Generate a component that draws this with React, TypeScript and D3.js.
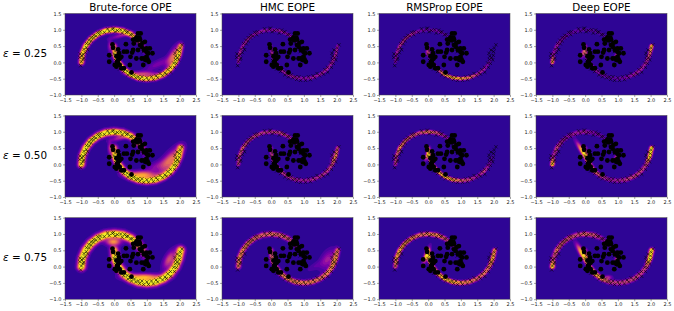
import { useEffect, useMemo, useRef } from "react";
import * as d3 from "d3";

const FONT = "'DejaVu Sans', sans-serif";
const PANEL_W = 131;
const PANEL_H = 81.5;
const COL_X = [65, 222, 379, 536];
const ROW_Y = [13.5, 115.5, 217.7];
const xTicks = [-1.5, -1, -0.5, 0, 0.5, 1, 1.5, 2, 2.5];
const yTicks = [-1, -0.5, 0, 0.5, 1, 1.5];

const methods = ["Brute-force OPE", "HMC EOPE", "RMSProp EOPE", "Deep EOPE"];
const epsilons = ["0.25", "0.50", "0.75"];

// labelled points, same in every panel
const dotPoints = [
  [-0.05, 0.55], [-0.03, 0.45], [-0.15, 0.22], [-0.15, 0.02], [0.12, 0.4], [0.15, 0.28], [0.07, 0.19],
  [0.22, 0.17], [0.3, 0.33], [0.36, 0.56], [0.39, 0.33], [0.5, 0.17], [0.55, 0.3], [0.6, 0.58],
  [0.68, 0.77], [0.73, 0.89], [0.81, 0.89], [0.7, 0.68], [0.77, 0.76], [0.58, 0.38], [0.73, 0.38],
  [0.68, 0.12], [0.48, -0.08], [0.84, 0.12], [0.99, 0.17], [1.04, 0.28], [1.17, 0.28], [1.09, 0.43],
  [0.94, 0.63], [0.84, 0.48], [0.91, 0.38], [0.97, 0.07], [0.89, -0.08], [1.06, 0.02], [0.12, -0.03],
  [0.07, -0.13], [0.17, -0.08], [0.09, 0.02], [0.22, -0.18], [0.3, -0.18], [0.17, 0.12], [0.53, -0.31],
  [0.79, 0.53], [0.87, 0.6], [0.94, 0.4], [0.99, 0.33], [0.91, 0.12], [0.99, 0.43], [1.02, 0.09],
  [0.58, 0.7], [0.79, 0.7], [0.15, 0.17], [0.02, -0.08], [0.12, 0.07],
];

const crossPoints = [
  [-1.02, -0.1], [-1.0, 0.02], [-0.95, 0.09], [-1.05, 0.15], [-0.93, 0.13], [-1.04, 0.26], [-0.95, 0.25],
  [-0.88, 0.3], [-0.98, 0.2], [-0.92, 0.4], [-0.85, 0.46], [-0.81, 0.39], [-0.84, 0.58], [-0.76, 0.57],
  [-0.77, 0.68], [-0.7, 0.66], [-0.7, 0.76], [-0.63, 0.75], [-0.62, 0.83], [-0.55, 0.81], [-0.5, 0.92],
  [-0.44, 0.85], [-0.42, 0.94], [-0.3, 0.92], [-0.2, 1.03], [-0.15, 0.95], [-0.05, 1.02], [-0.02, 1.05],
  [0.03, 0.94], [0.1, 0.98], [0.2, 1.0], [0.25, 0.9], [0.32, 0.99], [0.38, 0.92], [0.42, 0.94],
  [0.5, 0.85], [0.55, 0.86], [0.6, 0.75], [0.65, 0.7], [0.7, 0.78], [0.75, 0.6], [0.82, 0.6],
  [0.85, 0.47], [0.9, 0.45], [0.89, 0.33], [0.98, 0.25], [1.0, 0.16], [0.93, 0.07], [1.04, 0.06],
  [-0.04, 0.42], [0.04, 0.35], [0.0, 0.25], [0.06, 0.13], [0.05, 0.05], [0.15, 0.02], [0.08, -0.08],
  [0.2, -0.1], [0.17, -0.2], [0.3, -0.19], [0.29, -0.28], [0.4, -0.27], [0.42, -0.38], [0.5, -0.33],
  [0.53, -0.44], [0.62, -0.38], [0.66, -0.47], [0.74, -0.44], [0.78, -0.52], [0.85, -0.44], [0.9, -0.55],
  [1.0, -0.47], [1.05, -0.55], [1.14, -0.44], [1.2, -0.53], [1.28, -0.41], [1.33, -0.47], [1.4, -0.34],
  [1.48, -0.41], [1.55, -0.32], [1.6, -0.36], [1.64, -0.22], [1.73, -0.3], [1.72, -0.15], [1.84, -0.15],
  [1.82, -0.02], [1.9, -0.03], [1.87, 0.09], [1.97, 0.08], [1.88, 0.19], [1.99, 0.22], [1.86, 0.28],
  [2.0, 0.33], [1.92, 0.38], [2.02, 0.44], [2.07, 0.54], [1.94, 0.14],
];

// centre lines of the two moons
const upperMoon = [
  [-1.0, 0.0], [-0.97, 0.26], [-0.87, 0.5], [-0.71, 0.71], [-0.5, 0.87], [-0.26, 0.97], [0.0, 1.0],
  [0.26, 0.97], [0.5, 0.87], [0.71, 0.71], [0.87, 0.5], [0.97, 0.26], [1.0, 0.0],
];
const lowerMoon = [
  [0.0, 0.5], [0.03, 0.24], [0.13, 0.0], [0.29, -0.21], [0.5, -0.37], [0.74, -0.47], [1.0, -0.5],
  [1.26, -0.47], [1.5, -0.37], [1.71, -0.21], [1.87, 0.0], [1.97, 0.24], [2.03, 0.5],
];

// heat read along each moon, one row per epsilon
const bruteUpper = [
  [0.85, 0.9, 0.95, 0.9, 0.95, 0.95, 1, 0.95, 0.9, 0.65, 0.3, 0.08, 0],
  [0.95, 1, 1, 1, 1, 1, 1, 0.95, 0.95, 0.75, 0.35, 0.1, 0],
  [1, 1, 1, 1, 1, 1, 1, 1, 1, 0.85, 0.5, 0.15, 0],
];
const bruteLower = [
  [0.6, 0.95, 0.95, 0.95, 0.95, 1, 0.95, 0.9, 0.9, 0.9, 0.95, 0.95, 0.7],
  [0.7, 1, 1, 1, 1, 1, 1, 1, 1, 1, 1, 1, 0.85],
  [0.8, 1, 1, 1, 1, 1, 1, 1, 1, 1, 1, 1, 0.95],
];
const hmcUpper = [
  [0.3, 0.35, 0.3, 0.3, 0.25, 0.3, 0.25, 0.3, 0.25, 0.2, 0.05, 0, 0],
  [0.45, 0.45, 0.55, 0.4, 0.45, 0.4, 0.4, 0.45, 0.4, 0.25, 0.05, 0, 0],
  [0.6, 0.7, 0.65, 0.65, 0.55, 0.55, 0.6, 0.55, 0.55, 0.35, 0.1, 0, 0],
];
const hmcLower = [
  [0.2, 0.4, 0.35, 0.3, 0.3, 0.3, 0.25, 0.3, 0.3, 0.35, 0.3, 0.35, 0.3],
  [0.3, 0.5, 0.4, 0.45, 0.35, 0.35, 0.3, 0.35, 0.35, 0.4, 0.45, 0.65, 0.5],
  [0.4, 0.6, 0.6, 0.65, 0.65, 0.7, 0.65, 0.65, 0.6, 0.65, 0.65, 0.7, 0.55],
];
const rmsUpper = [
  [0.2, 0.3, 0.4, 0.35, 0.35, 0.2, 0.15, 0.2, 0.12, 0.05, 0, 0, 0],
  [0.4, 0.45, 0.7, 0.55, 0.5, 0.5, 0.65, 0.5, 0.3, 0.15, 0, 0, 0],
  [0.55, 0.75, 0.8, 0.7, 0.65, 0.6, 0.65, 0.7, 0.55, 0.3, 0.05, 0, 0],
];
const rmsLower = [
  [0.2, 0.4, 0.2, 0.35, 0.8, 0.85, 0.8, 0.65, 0.4, 0.3, 0.15, 0, 0],
  [0.45, 1, 0.7, 0.75, 0.85, 0.8, 0.55, 0.45, 0.25, 0.45, 0.2, 0.05, 0],
  [0.6, 1, 0.8, 0.8, 0.85, 0.85, 0.7, 0.65, 0.55, 0.6, 0.6, 0.8, 0.7],
];
const deepUpper = [
  [0.8, 0.25, 0.3, 0.2, 0.15, 0.15, 0.1, 0.1, 0.1, 0.05, 0, 0.05, 0],
  [0.95, 0.3, 0.45, 0.3, 0.25, 0.3, 0.3, 0.2, 0.15, 0.1, 0.05, 0.05, 0],
  [0.95, 0.4, 0.6, 0.5, 0.5, 0.45, 0.55, 0.5, 0.3, 0.15, 0.1, 0.1, 0],
];
const deepLower = [
  [0.3, 0.5, 0.2, 0.3, 0.2, 0.1, 0.15, 0.2, 0.3, 0.3, 0.3, 0.5, 0.9],
  [0.3, 0.5, 0.55, 0.6, 0.4, 0.3, 0.3, 0.4, 0.45, 0.4, 0.4, 0.95, 1],
  [0.3, 0.6, 0.65, 0.85, 0.7, 0.45, 0.4, 0.45, 0.45, 0.4, 0.45, 1, 0.95],
];

// ridge half width, one per epsilon
const bruteSpread = [0.052, 0.066, 0.08];
const hmcSpread = [0.03, 0.035, 0.048];
const rmsSpread = [0.03, 0.035, 0.042];
const deepSpread = [0.035, 0.04, 0.046];

// extra soft heat off the moons: cx, cy, long, short, angle, heat
const bruteWash = [
  [[1.8, 0.17, 0.24, 0.09, 62, 0.6], [0.9, -0.35, 0.3, 0.05, 0, 0.45], [1.35, -0.05, 0.3, 0.08, 25, 0.2],
    [-0.13, 0.5, 0.13, 0.04, 90, 0.3], [0.2, 0.82, 0.22, 0.04, 15, 0.3]],
  [[1.7, 0.12, 0.32, 0.12, 50, 0.6], [0.85, -0.33, 0.3, 0.08, 0, 0.8], [1.3, -0.05, 0.3, 0.09, 25, 0.22],
    [-0.13, 0.5, 0.14, 0.04, 90, 0.35], [0.2, 0.82, 0.22, 0.05, 15, 0.35]],
  [[1.68, 0.22, 0.2, 0.09, 62, 0.5], [0.9, -0.33, 0.35, 0.07, 0, 0.85], [-0.02, 0.76, 0.15, 0.08, 0, 0.75]],
];
const hmcWash = [
  [],
  [[1.9, 0.22, 0.12, 0.05, 70, 0.25]],
  [[1.72, 0.22, 0.22, 0.12, 60, 0.3], [1.9, 0.2, 0.2, 0.05, 75, 0.25], [1.35, 0.02, 0.2, 0.07, 30, 0.1]],
];
const rmsWash = [
  [[-0.03, 0.3, 0.06, 0.03, 90, 0.4]],
  [[-0.02, 0.3, 0.12, 0.03, 70, 0.8]],
  [[-0.05, 0.35, 0.16, 0.04, 70, 1]],
];
const deepWash = [
  [[-0.05, 0.3, 0.1, 0.04, 70, 0.55], [0.95, 0.2, 0.05, 0.03, 70, 0.55]],
  [[-0.05, 0.35, 0.24, 0.045, -58, 1], [0.95, 0.2, 0.07, 0.04, 70, 0.5]],
  [[-0.08, 0.38, 0.22, 0.05, -60, 1], [0.97, 0.2, 0.08, 0.04, 70, 0.6], [0.7, -0.33, 0.08, 0.04, 0, 0.4]],
];

const upperGlow = [bruteUpper, hmcUpper, rmsUpper, deepUpper];
const lowerGlow = [bruteLower, hmcLower, rmsLower, deepLower];
const spreads = [bruteSpread, hmcSpread, rmsSpread, deepSpread];
const washes = [bruteWash, hmcWash, rmsWash, deepWash];

const x = d3.scaleLinear().domain([-1.5, 2.5]).range([0, PANEL_W]);
const y = d3.scaleLinear().domain([-1, 1.5]).range([PANEL_H, 0]);
const heat = d3.scaleSequential((t) => d3.interpolatePlasma(0.055 + 0.945 * t)).domain([0, 1]);
const levels = d3.range(0.04, 1.0, 0.06);
const tickFmt = d3.format(".1f");
const GRID_W = 131;
const GRID_H = 82;

function ridgeAt(px, py, line, glow, w) {
  let best = 0;
  for (let i = 0; i < line.length - 1; i++) {
    const [ax, ay] = line[i];
    const [bx, by] = line[i + 1];
    const dx = bx - ax;
    const dy = by - ay;
    const t = Math.max(0, Math.min(1, ((px - ax) * dx + (py - ay) * dy) / (dx * dx + dy * dy)));
    const qx = px - (ax + t * dx);
    const qy = py - (ay + t * dy);
    const amp = glow[i] + t * (glow[i + 1] - glow[i]);
    const v = amp * Math.min(1, 1.3 * Math.exp(-(qx * qx + qy * qy) / (2 * w * w)));
    if (v > best) best = v;
  }
  return best;
}

// screen blend so the soft patches melt into the moons
function washAt(px, py, wash, base) {
  let rest = 1 - base;
  for (const [cx, cy, a, b, deg, amp] of wash) {
    const r = (deg * Math.PI) / 180;
    const u = (px - cx) * Math.cos(r) + (py - cy) * Math.sin(r);
    const v = -(px - cx) * Math.sin(r) + (py - cy) * Math.cos(r);
    rest *= 1 - amp * Math.exp(-(u * u) / (2 * a * a) - (v * v) / (2 * b * b));
  }
  return 1 - rest;
}

const Panel = ({ col, row }) => {
  const xAxisRef = useRef(null);
  const yAxisRef = useRef(null);

  const paths = useMemo(() => {
    const values = new Array(GRID_W * GRID_H);
    const gx = d3.scaleLinear().domain([0, GRID_W]).range([-1.5, 2.5]);
    const gy = d3.scaleLinear().domain([0, GRID_H]).range([1.5, -1]);
    const w = spreads[col][row];
    for (let j = 0; j < GRID_H; j++) {
      for (let i = 0; i < GRID_W; i++) {
        const px = gx(i + 0.5);
        const py = gy(j + 0.5);
        const base = Math.max(
          ridgeAt(px, py, upperMoon, upperGlow[col][row], w),
          ridgeAt(px, py, lowerMoon, lowerGlow[col][row], w),
        );
        values[j * GRID_W + i] = washAt(px, py, washes[col][row], base);
      }
    }
    const path = d3.geoPath(
      d3.geoTransform({
        point(a, b) {
          this.stream.point((a / GRID_W) * PANEL_W, (b / GRID_H) * PANEL_H);
        },
      }),
    );
    return d3.contours().size([GRID_W, GRID_H]).thresholds(levels)(values).map((c) => ({
      d: path(c),
      fill: heat(c.value + 0.03),
    }));
  }, [col, row]);

  useEffect(() => {
    const style = (sel) => {
      sel.selectAll("text").attr("font-family", FONT).attr("font-size", 5).attr("fill", "#222");
      sel.selectAll("line").attr("stroke-width", 0.4).attr("stroke", "#222");
      sel.select(".domain").remove();
    };
    d3.select(xAxisRef.current)
      .call(d3.axisBottom(x).tickValues(xTicks).tickFormat(tickFmt).tickSize(2).tickPadding(1.5))
      .call(style);
    d3.select(yAxisRef.current)
      .call(d3.axisLeft(y).tickValues(yTicks).tickFormat(tickFmt).tickSize(2).tickPadding(1.5))
      .call(style);
  }, []);

  return (
    <g transform={`translate(${COL_X[col]},${ROW_Y[row]})`}>
      <rect width={PANEL_W} height={PANEL_H} fill={heat(0)} />
      {paths.map((p, i) => (
        <path key={i} d={p.d} fill={p.fill} />
      ))}
      {crossPoints.map(([a, b], i) => {
        const s = 1.6;
        const cx = x(a);
        const cy = y(b);
        return (
          <path
            key={i}
            d={`M${cx - s},${cy - s}L${cx + s},${cy + s}M${cx - s},${cy + s}L${cx + s},${cy - s}`}
            stroke="#000"
            strokeWidth={0.6}
            fill="none"
          />
        );
      })}
      {dotPoints.map(([a, b], i) => (
        <circle key={i} cx={x(a)} cy={y(b)} r={2.4} fill="#000" />
      ))}
      <rect width={PANEL_W} height={PANEL_H} fill="none" stroke="#444" strokeWidth={0.5} />
      <g ref={xAxisRef} transform={`translate(0,${PANEL_H})`} />
      <g ref={yAxisRef} />
    </g>
  );
};

export default function App() {
  return (
    <svg width={674} height={311} style={{ position: "absolute", left: 0, top: 0, background: "#fff" }}>
      {methods.map((m, c) => (
        <text key={m} x={COL_X[c] + PANEL_W / 2} y={11} textAnchor="middle" fontFamily={FONT} fontSize={10.4} fill="#000">
          {m}
        </text>
      ))}
      {epsilons.map((e, r) => (
        <text key={e} x={3} y={ROW_Y[r] + 43.5} fontFamily={FONT} fontSize={10.4} fill="#000">
          <tspan fontStyle="italic">ε</tspan> = {e}
        </text>
      ))}
      {methods.map((m, c) => epsilons.map((e, r) => <Panel key={`${m}${e}`} col={c} row={r} />))}
    </svg>
  );
}
